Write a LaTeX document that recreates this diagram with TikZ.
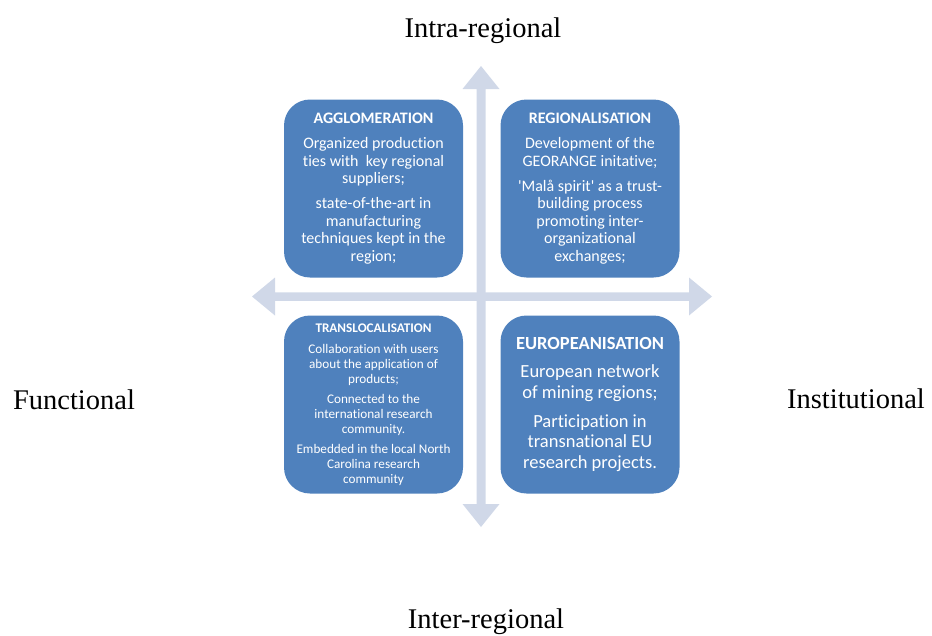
\documentclass[tikz,border=0pt]{standalone}
\usepackage{fontspec}
\setmainfont{Liberation Serif}
\newfontfamily\boxfont[Ligatures=NoCommon]{Carlito}
\definecolor{boxblue}{HTML}{4F81BD}
\definecolor{axisgray}{HTML}{D0D8E8}

\begin{document}
\begin{tikzpicture}[x=1pt,y=-1pt]
  \tikzstyle{quad} = [fill=boxblue,rounded corners=26pt,minimum width=179pt,minimum height=178pt,text=white,align=center,inner sep=0pt]
  \tikzstyle{dim} = [font=\fontsize{28.5}{30}\selectfont,anchor=base]
  %%
  \useasboundingbox (0,0) rectangle (932,635);
  %%
  \fill[axisgray] (481,66) -- (499.5,89) -- (485.5,89) -- (485.5,504) -- (499.5,504)
    -- (481,527) -- (462.5,504) -- (476.5,504) -- (476.5,89) -- (462.5,89) -- cycle;
  \fill[axisgray] (252,296.5) -- (275,277.5) -- (275,292.25) -- (689,292.25) -- (689,277.5)
    -- (712,296.5) -- (689,315.5) -- (689,300.75) -- (275,300.75) -- (275,315.5) -- cycle;
  %%
  \node[quad,font=\boxfont\fontsize{16}{17.5}\selectfont] (agglo) at (373.5,188.5)
    {\textbf{AGGLOMERATION}\\[7.5pt]Organized production\\ties with\ \ key regional\\suppliers;\\[7.5pt]state-of-the-art in\\manufacturing\\techniques kept in the\\region;};
  \node[quad,font=\boxfont\fontsize{16}{17.5}\selectfont] (region) at (590,188.5)
    {\textbf{REGIONALISATION}\\[8pt]Development of the\\GEORANGE initative;\\[7.5pt]\textquotesingle Malå spirit\textquotesingle{} as a trust-\\building process\\promoting inter-\\organizational\\exchanges;};
  \node[quad,font=\boxfont\fontsize{13.2}{15}\selectfont] (transloc) at (373.5,404.5)
    {\textbf{TRANSLOCALISATION}\\[6pt]Collaboration with users\\about the application of\\products;\\[5pt]Connected to the\\international research\\community.\\[5pt]Embedded in the local North\\Carolina research\\community};
  \node[quad,font=\boxfont\fontsize{18.5}{20.5}\selectfont] (europe) at (590,404.5)
    {\textbf{EUROPEANISATION}\\[7.5pt]European network\\of mining regions;\\[8.5pt]Participation in\\transnational EU\\research projects.};
  %%
  \node[dim] (intra) at (483,37) {Intra-regional};
  \node[dim] (inter) at (486,628) {Inter-regional};
  \node[dim] (func) at (74,409) {Functional};
  \node[dim] (inst) at (856,408) {Institutional};
\end{tikzpicture}
\end{document}
